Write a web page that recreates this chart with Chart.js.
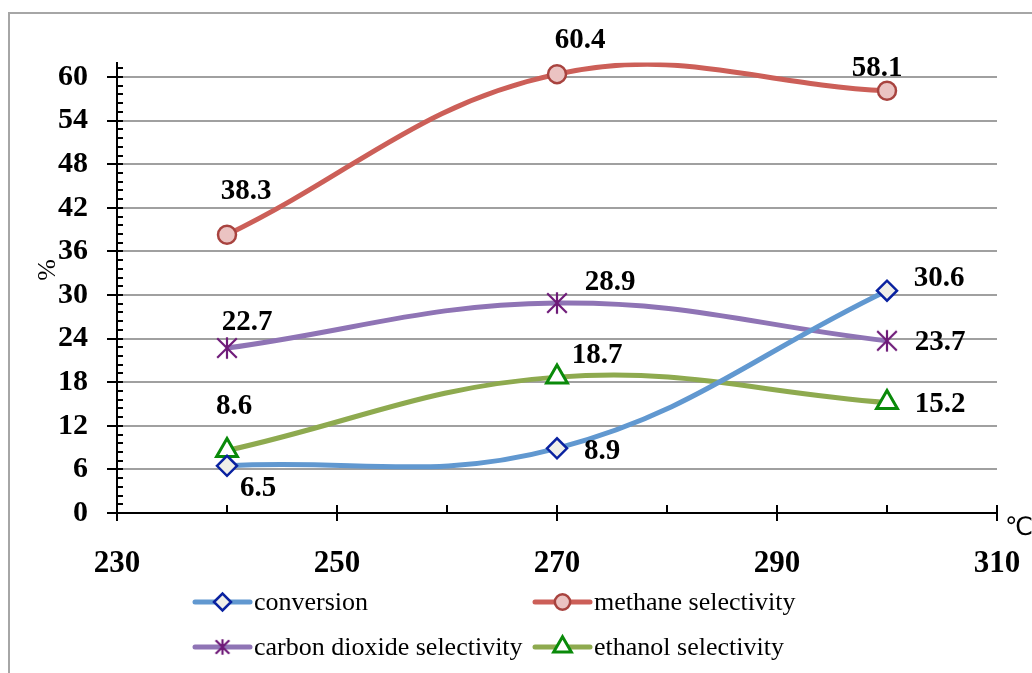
<!DOCTYPE html>
<html>
<head>
<meta charset="utf-8">
<script src="https://cdn.jsdelivr.net/npm/chart.js@4/dist/chart.umd.min.js"></script>
<style>
  body { margin: 0; background: #fff; }
</style>
</head>
<body>
<canvas id="my-chart" width="1032" height="673"></canvas>
<script>
// data
const temperatures = [240, 270, 300]
const conversion = [6.5, 8.9, 30.6]
const methaneSel = [38.3, 60.4, 58.1]
const co2Sel = [22.7, 28.9, 23.7]
const ethanolSel = [8.6, 18.7, 15.2]
const yTicks = [0, 6, 12, 18, 24, 30, 36, 42, 48, 54, 60]
const xTicks = [230, 250, 270, 290, 310]

// where each value label sits relative to its point (px)
const labelOffsets = [
  [[31, 23], [45, 3], [52, -12]],
  [[19, -43], [23, -34], [-10, -22]],
  [[20, -26], [53, -20], [53, 2]],
  [[7, -44], [40, -22], [53, 2]]
]

const serif = '"Liberation Serif", "Times New Roman", serif'

// six-armed asterisk marker
function makeStar(size, color, lw) {
  const c = document.createElement('canvas')
  c.width = size; c.height = size
  const g = c.getContext('2d')
  g.strokeStyle = color
  g.lineWidth = lw
  const p = lw
  g.beginPath()
  g.moveTo(size / 2, p - 1); g.lineTo(size / 2, size - p + 1)
  g.moveTo(p, p); g.lineTo(size - p, size - p)
  g.moveTo(size - p, p); g.lineTo(p, size - p)
  g.stroke()
  return c
}
const starBig = makeStar(24, '#6E1A78', 2.2)
const starSmall = makeStar(18, '#6E1A78', 2.2)

function pts(ys) {
  return temperatures.map((t, i) => ({ x: t, y: ys[i] }))
}

const extras = {
  id: 'extras',
  beforeDraw(chart) {
    const ctx = chart.ctx
    ctx.save()
    ctx.fillStyle = '#fff'
    ctx.fillRect(0, 0, chart.width, chart.height)
    ctx.strokeStyle = '#A6A6A6'
    ctx.lineWidth = 2
    ctx.strokeRect(9, 13, 1100, 800)
    ctx.restore()
  },
  afterDraw(chart) {
    const ctx = chart.ctx
    const xs = chart.scales.x, ys = chart.scales.y
    const ax = xs.left, ay = ys.bottom
    ctx.save()
    ctx.strokeStyle = '#000'
    ctx.lineWidth = 2
    ctx.beginPath()
    // y ticks
    for (let v = 0; v <= 62.001; v += 1.2) {
      const y = Math.round(ys.getPixelForValue(v))
      ctx.moveTo(ax, y); ctx.lineTo(ax + 6, y)
    }
    yTicks.forEach(v => {
      const y = Math.round(ys.getPixelForValue(v))
      ctx.moveTo(ax - 10, y); ctx.lineTo(ax + 6, y)
    })
    // x ticks
    for (let v = 240; v < 310; v += 20) {
      const x = Math.round(xs.getPixelForValue(v))
      ctx.moveTo(x, ay - 8); ctx.lineTo(x, ay)
    }
    xTicks.forEach(v => {
      const x = Math.round(xs.getPixelForValue(v))
      ctx.moveTo(x, ay - 8); ctx.lineTo(x, ay + 8)
    })
    ctx.stroke()

    // value labels
    ctx.fillStyle = '#000'
    ctx.font = 'bold 29px ' + serif
    ctx.textAlign = 'center'
    ctx.textBaseline = 'middle'
    chart.data.datasets.forEach((ds, i) => {
      const meta = chart.getDatasetMeta(i)
      meta.data.forEach((pt, j) => {
        const o = labelOffsets[i][j]
        ctx.fillText(ds.data[j].y.toFixed(1), pt.x + o[0], pt.y + o[1])
      })
    })

    // axis titles
    ctx.font = '26px ' + serif
    ctx.save()
    ctx.translate(48, 270)
    ctx.rotate(-Math.PI / 2)
    ctx.fillText('%', 0, 0)
    ctx.restore()
    ctx.font = '25px "Liberation Sans", "DejaVu Sans", sans-serif'
    ctx.textAlign = 'left'
    ctx.textBaseline = 'alphabetic'
    ctx.fillText('℃', 1005, 535)

    // legend
    const colX = [195, 535]
    const rowY = [602, 647]
    ctx.font = '26px ' + serif
    ctx.textBaseline = 'middle'
    chart.data.datasets.forEach((ds, i) => {
      const x0 = colX[i % 2], y0 = rowY[Math.floor(i / 2)]
      ctx.strokeStyle = ds.borderColor
      ctx.lineWidth = 5
      ctx.lineCap = 'round'
      ctx.beginPath()
      ctx.moveTo(x0, y0); ctx.lineTo(x0 + 55, y0)
      ctx.stroke()
      const cx = x0 + 27.5
      if (ds.pointStyle instanceof HTMLCanvasElement) {
        ctx.drawImage(starSmall, cx - 9, y0 - 9)
      } else {
        ctx.fillStyle = ds.pointBackgroundColor
        ctx.strokeStyle = ds.pointBorderColor
        ctx.lineWidth = ds.pointBorderWidth
        Chart.helpers.drawPoint(ctx, {
          pointStyle: ds.pointStyle,
          radius: ds.pointRadius * 0.85,
          rotation: 0,
          borderWidth: ds.pointBorderWidth
        }, cx, y0)
      }
      ctx.fillStyle = '#000'
      ctx.fillText(ds.label, x0 + 59, y0 + 1)
    })
    ctx.restore()
  }
}

const chart = document.getElementById('my-chart')
var myChart = new Chart(chart, {
  type: 'line',
  data: {
    datasets: [{
      label: 'conversion',
      data: pts(conversion),
      borderColor: '#6198D0',
      pointStyle: 'rectRot',
      pointRadius: 10,
      pointBackgroundColor: '#EFEFE9',
      pointBorderColor: '#0A22A0',
      pointBorderWidth: 2.5
    }, {
      label: 'methane selectivity',
      data: pts(methaneSel),
      borderColor: '#CC5F58',
      pointStyle: 'circle',
      pointRadius: 9,
      pointBackgroundColor: '#EBC3C2',
      pointBorderColor: '#A8433F',
      pointBorderWidth: 2.5
    }, {
      label: 'carbon dioxide selectivity',
      data: pts(co2Sel),
      borderColor: '#8F74B5',
      pointStyle: starBig,
      pointRadius: 11,
      pointBackgroundColor: '#6E1A78',
      pointBorderColor: '#6E1A78',
      pointBorderWidth: 2
    }, {
      label: 'ethanol selectivity',
      data: pts(ethanolSel),
      borderColor: '#8EAA4F',
      pointStyle: 'triangle',
      pointRadius: 12,
      pointBackgroundColor: '#FFFFFF',
      pointBorderColor: '#0A8A0A',
      pointBorderWidth: 3
    }]
  },
  options: {
    responsive: false,
    animation: false,
    layout: { padding: { left: 0, top: 62.5, right: 35, bottom: 0 } },
    elements: {
      line: { tension: 0.4, borderWidth: 5, capBezierPoints: false }
    },
    scales: {
      x: {
        type: 'linear',
        min: 230,
        max: 310,
        afterBuildTicks: axis => { axis.ticks = xTicks.map(v => ({ value: v })) },
        afterFit: axis => {
          axis.height = 160
          axis.paddingLeft = 0
          axis.paddingRight = 0
        },
        grid: { display: false },
        border: { display: true, color: '#000', width: 2 },
        ticks: {
          color: '#000',
          padding: 24,
          font: { family: serif, size: 31, weight: 'bold' }
        }
      },
      y: {
        min: 0,
        max: 62,
        afterBuildTicks: axis => { axis.ticks = yTicks.map(v => ({ value: v })) },
        afterFit: axis => {
          axis.width = 117
          axis.paddingTop = 0
          axis.paddingBottom = 0
        },
        grid: {
          color: c => (c.tick && c.tick.value === 0) ? 'rgba(0,0,0,0)' : '#A0A0A0',
          lineWidth: 2,
          drawTicks: false
        },
        border: { display: true, color: '#000', width: 2 },
        ticks: {
          color: '#000',
          padding: 29,
          font: { family: serif, size: 30, weight: 'bold' }
        }
      }
    },
    plugins: {
      legend: { display: false },
      tooltip: { enabled: false }
    }
  },
  plugins: [extras]
})
</script>
</body>
</html>
